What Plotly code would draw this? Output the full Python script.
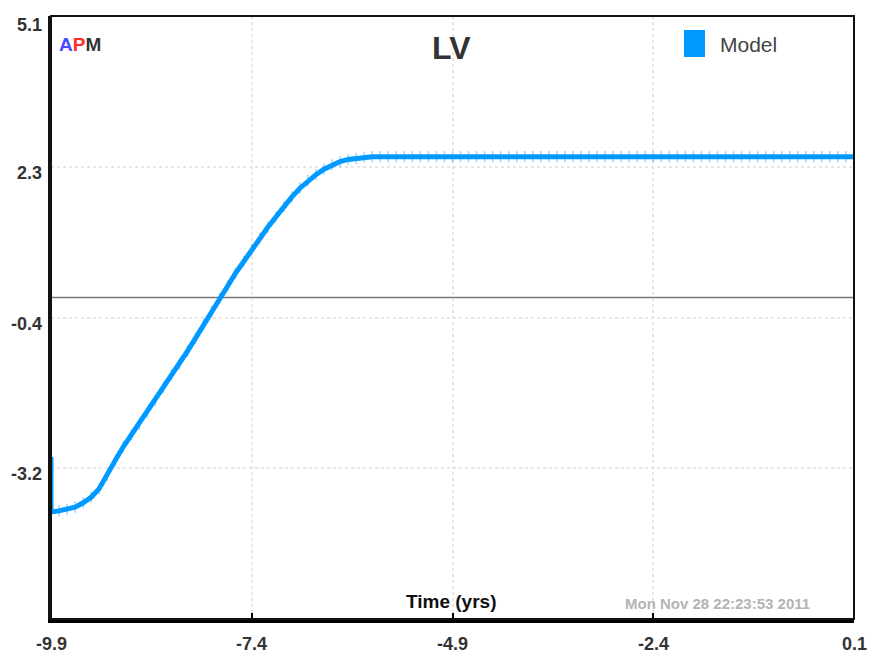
import plotly.graph_objects as go

# ---------------- data ----------------
time_yrs = [-9.9, -9.9, -9.8, -9.7, -9.6, -9.5, -9.4, -9.3, -9.2, -9.1, -9.0,
            -8.9, -8.8, -8.7, -8.6, -8.5, -8.4, -8.3, -8.2, -8.1, -8.0,
            -7.9, -7.8, -7.7, -7.6, -7.5, -7.4, -7.3, -7.2, -7.1, -7.0,
            -6.9, -6.8, -6.7, -6.6, -6.5, -6.4, -6.3, -6.2, -6.1, -6.0,
            -5.9, -5.8, -5.7, -5.6, -5.5, -5.4, -5.3, -5.2, -5.1, -5.0,
            -4.9, -4.8, -4.7, -4.6, -4.5, -4.4, -4.3, -4.2, -4.1, -4.0,
            -3.9, -3.8, -3.7, -3.6, -3.5, -3.4, -3.3, -3.2, -3.1, -3.0,
            -2.9, -2.8, -2.7, -2.6, -2.5, -2.4, -2.3, -2.2, -2.1, -2.0,
            -1.9, -1.8, -1.7, -1.6, -1.5, -1.4, -1.3, -1.2, -1.1, -1.0,
            -0.9, -0.8, -0.7, -0.6, -0.5, -0.4, -0.3, -0.2, -0.1, 0.0, 0.1]

model_lv = [-3.02, -4.03, -4.01, -3.98, -3.94, -3.86, -3.76, -3.60, -3.36, -3.08, -2.83,
            -2.61, -2.42, -2.20, -1.98, -1.74, -1.51, -1.30, -1.07, -0.83, -0.58,
            -0.34, -0.10, 0.13, 0.37, 0.59, 0.80, 1.01, 1.21, 1.40, 1.59,
            1.77, 1.93, 2.07, 2.18, 2.28, 2.36, 2.42, 2.46, 2.48, 2.50,
            2.51, 2.51, 2.51, 2.51, 2.51, 2.51, 2.51, 2.51, 2.51, 2.51,
            2.51, 2.51, 2.51, 2.51, 2.51, 2.51, 2.51, 2.51, 2.51, 2.51,
            2.51, 2.51, 2.51, 2.51, 2.51, 2.51, 2.51, 2.51, 2.51, 2.51,
            2.51, 2.51, 2.51, 2.51, 2.51, 2.51, 2.51, 2.51, 2.51, 2.51,
            2.51, 2.51, 2.51, 2.51, 2.51, 2.51, 2.51, 2.51, 2.51, 2.51,
            2.51, 2.51, 2.51, 2.51, 2.51, 2.51, 2.51, 2.51, 2.51, 2.51, 2.51]

x_tick_vals = [-9.9, -7.4, -4.9, -2.4, 0.1]
x_tick_text = ["-9.9", "-7.4", "-4.9", "-2.4", "0.1"]
y_tick_vals = [5.1, 2.325, -0.45, -3.225]
y_tick_text = ["5.1", "2.3", "-0.4", "-3.2"]
x_range = [-9.9, 0.1]
y_range = [-6.0, 5.1]
reference_level = -0.08

series_name = "Model"
chart_title = "LV"
x_title = "Time (yrs)"
timestamp = "Mon Nov 28 22:23:53 2011"

# ---------------- layout helpers ----------------
W, H = 872, 662
L, R, T, B = 51, 854, 16, 619


def px_x(p):
    return (p - L) / (R - L)


def px_y(p):
    return (B - p) / (B - T)


FONT = "Liberation Sans, Arial, sans-serif"
BLUE = "#0099ff"

fig = go.Figure()
fig.add_trace(go.Scatter(
    x=time_yrs, y=model_lv, mode="lines+markers", name=series_name,
    line=dict(color=BLUE, width=5),
    marker=dict(symbol="line-ns", size=8, color=BLUE,
                line=dict(color="rgba(0,153,255,0.4)", width=1.5)),
    showlegend=False, hoverinfo="x+y"))

annotations = []
for v, t in zip(x_tick_vals, x_tick_text):
    annotations.append(dict(x=v, xref="x", y=px_y(644), yref="paper", text="<b>" + t + "</b>",
                            showarrow=False, xanchor="center", yanchor="middle",
                            font=dict(family=FONT, size=18, color="#333333")))
for i, (v, t) in enumerate(zip(y_tick_vals, y_tick_text)):
    annotations.append(dict(x=px_x(44), xref="paper", y=v, yref="y", text="<b>" + t + "</b>",
                            showarrow=False, xanchor="right", yanchor="middle",
                            yshift=-9 if i == 0 else -6,
                            font=dict(family=FONT, size=18, color="#333333")))

annotations += [
    dict(x=px_x(451), xref="paper", y=px_y(48), yref="paper", text="<b>" + chart_title + "</b>",
         showarrow=False, xanchor="center", yanchor="middle",
         font=dict(family=FONT, size=32, color="#333333")),
    dict(x=px_x(57), xref="paper", y=px_y(44), yref="paper",
         text="<b><span style='color:#4a4aff'>A</span><span style='color:#ff2a2a'>P</span>"
              "<span style='color:#333333'>M</span></b>",
         showarrow=False, xanchor="left", yanchor="middle",
         font=dict(family=FONT, size=19, color="#333333")),
    dict(x=px_x(718), xref="paper", y=px_y(44), yref="paper", text=series_name,
         showarrow=False, xanchor="left", yanchor="middle",
         font=dict(family=FONT, size=21, color="#444444")),
    dict(x=px_x(451), xref="paper", y=px_y(601), yref="paper", text="<b>" + x_title + "</b>",
         showarrow=False, xanchor="center", yanchor="middle",
         font=dict(family=FONT, size=19, color="#111111")),
    dict(x=px_x(717), xref="paper", y=px_y(603), yref="paper", text="<b>" + timestamp + "</b>",
         showarrow=False, xanchor="center", yanchor="middle",
         font=dict(family=FONT, size=15, color="#b4b4b4")),
]

shapes = [
    dict(type="line", xref="paper", x0=0, x1=1, yref="y", y0=reference_level, y1=reference_level,
         line=dict(color="#777777", width=1.5), layer="below"),
    dict(type="rect", xref="paper", yref="paper", x0=0, x1=1, y0=0, y1=1,
         line=dict(color="#111111", width=2), layer="above"),
    dict(type="rect", xref="paper", yref="paper", x0=px_x(684), x1=px_x(705),
         y0=px_y(57), y1=px_y(30), fillcolor=BLUE, line=dict(width=0)),
]

fig.update_layout(
    width=W, height=H,
    margin=dict(l=L, r=W - R, t=T, b=H - B, pad=0),
    paper_bgcolor="white", plot_bgcolor="white",
    showlegend=False,
    annotations=annotations, shapes=shapes,
    xaxis=dict(range=x_range, tickvals=x_tick_vals, showticklabels=False,
               ticks="inside", ticklen=6, tickwidth=1.5, tickcolor="#000000",
               showgrid=True, gridcolor="#e6e6e6", griddash="dot", gridwidth=1.5,
               showline=True, linecolor="#000000", linewidth=3.5, zeroline=False),
    yaxis=dict(range=y_range, tickvals=y_tick_vals, showticklabels=False, ticks="",
               showgrid=True, gridcolor="#e6e6e6", griddash="dot", gridwidth=1.5,
               showline=True, linecolor="#111111", linewidth=2.5, zeroline=False),
)

fig.write_html("out.html", config={"displayModeBar": False},
               post_script="document.body.style.margin='0';document.body.style.overflow='hidden';")
